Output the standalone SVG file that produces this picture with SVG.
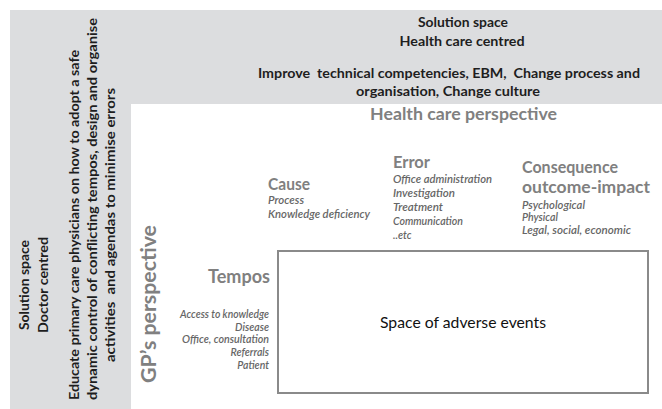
<svg xmlns="http://www.w3.org/2000/svg" width="662" height="409" viewBox="0 0 662 409">
<style>
.panel{fill:#dcdddf}
.dark{font-family:Lato,"Liberation Sans",sans-serif;font-weight:bold;font-size:13.5px;fill:#1e1e1e;white-space:pre}
.head{font-family:Lato,"Liberation Sans",sans-serif;font-weight:bold;font-size:17px;fill:#808080}
.item{font-family:Lato,"Liberation Sans",sans-serif;font-style:italic;font-weight:600;font-size:10.5px;fill:#666}
.box{fill:#fff;stroke:#8a8a8a;stroke-width:2}
.mid{text-anchor:middle}
.end{text-anchor:end}
</style>
<rect width="662" height="409" fill="#fff"/>
<g id="left-panel">
<rect class="panel" x="10" y="10" width="121" height="399"/>
<text class="dark mid" transform="translate(29,285) rotate(-90)" textLength="90" lengthAdjust="spacingAndGlyphs">Solution space</text>
<text class="dark mid" transform="translate(48,285) rotate(-90)" textLength="96" lengthAdjust="spacingAndGlyphs">Doctor centred</text>
<text class="dark" transform="translate(79,400) rotate(-90)" textLength="350" lengthAdjust="spacingAndGlyphs">Educate primary care physicians on how to adopt a safe</text>
<text class="dark" transform="translate(97,400) rotate(-90)" textLength="382" lengthAdjust="spacingAndGlyphs">dynamic control of conflicting tempos, design and organise</text>
<text class="dark" transform="translate(115,362) rotate(-90)" textLength="274" lengthAdjust="spacingAndGlyphs">activities  and agendas to minimise errors</text>
</g>
<g id="top-panel">
<rect class="panel" x="131" y="10" width="531" height="94"/>
<text class="dark mid" x="463" y="27" textLength="90" lengthAdjust="spacingAndGlyphs">Solution space</text>
<text class="dark mid" x="462" y="46" textLength="125" lengthAdjust="spacingAndGlyphs">Health care centred</text>
<text class="dark mid" x="449" y="78" textLength="382" lengthAdjust="spacingAndGlyphs">Improve  technical competencies, EBM,  Change process and</text>
<text class="dark mid" x="448" y="96" textLength="184" lengthAdjust="spacingAndGlyphs">organisation, Change culture</text>
</g>
<g id="health-care-perspective">
<text class="head" x="370" y="120" textLength="187" lengthAdjust="spacingAndGlyphs">Health care perspective</text>
</g>
<g id="cause">
<text class="head" x="268" y="190" textLength="42" lengthAdjust="spacingAndGlyphs">Cause</text>
<text class="item" x="268" y="204" textLength="36" lengthAdjust="spacingAndGlyphs">Process</text>
<text class="item" x="268" y="218" textLength="102" lengthAdjust="spacingAndGlyphs">Knowledge deficiency</text>
</g>
<g id="error">
<text class="head" x="393" y="168" textLength="37" lengthAdjust="spacingAndGlyphs">Error</text>
<text class="item" x="393" y="183" textLength="99" lengthAdjust="spacingAndGlyphs">Office administration</text>
<text class="item" x="393" y="197" textLength="62" lengthAdjust="spacingAndGlyphs">Investigation</text>
<text class="item" x="393" y="211" textLength="50" lengthAdjust="spacingAndGlyphs">Treatment</text>
<text class="item" x="393" y="225" textLength="70" lengthAdjust="spacingAndGlyphs">Communication</text>
<text class="item" x="393" y="239">..etc</text>
</g>
<g id="consequence">
<text class="head" x="522" y="173" textLength="96" lengthAdjust="spacingAndGlyphs">Consequence</text>
<text class="head" x="522" y="193" textLength="128" lengthAdjust="spacingAndGlyphs">outcome-impact</text>
<text class="item" x="522" y="209" textLength="63" lengthAdjust="spacingAndGlyphs">Psychological</text>
<text class="item" x="522" y="221" textLength="36" lengthAdjust="spacingAndGlyphs">Physical</text>
<text class="item" x="522" y="234" textLength="109" lengthAdjust="spacingAndGlyphs">Legal, social, economic</text>
</g>
<g id="gp-perspective">
<text class="head" style="font-size:21px" transform="translate(156,383) rotate(-90)" textLength="158" lengthAdjust="spacingAndGlyphs">GP’s perspective</text>
</g>
<g id="tempos">
<text class="head" style="font-size:18px" x="208" y="283" textLength="62" lengthAdjust="spacingAndGlyphs">Tempos</text>
<text class="item end" x="269" y="318" textLength="89" lengthAdjust="spacingAndGlyphs">Access to knowledge</text>
<text class="item end" x="269" y="331">Disease</text>
<text class="item end" x="269" y="343" textLength="87" lengthAdjust="spacingAndGlyphs">Office, consultation</text>
<text class="item end" x="269" y="356">Referrals</text>
<text class="item end" x="269" y="369">Patient</text>
</g>
<g id="adverse-events">
<rect class="box" x="278" y="251" width="370" height="142"/>
<text x="463" y="328" text-anchor="middle" font-family="Lato,'Liberation Sans',sans-serif" font-size="16" fill="#111" textLength="166" lengthAdjust="spacingAndGlyphs">Space of adverse events</text>
</g>
<g id="connectors"></g>
</svg>
